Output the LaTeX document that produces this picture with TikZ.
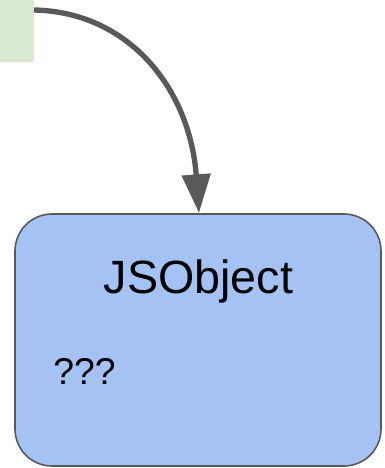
\documentclass[tikz,border=0pt]{standalone}
\usepackage{fontspec}
\setmainfont{Liberation Sans}
\usetikzlibrary{arrows.meta}
\definecolor{leafgreen}{HTML}{D9EAD3}
\definecolor{objblue}{HTML}{A4C2F4}
\definecolor{edgegray}{HTML}{595959}
\tikzset{
  srcbox/.style={fill=leafgreen, draw=none},
  objbox/.style={fill=objblue, draw=edgegray, line width=1.2pt, rounded corners=27.75pt},
  link/.style={draw=edgegray, line width=4pt,
    -{Triangle[length=29pt, width=21pt]}},
  label/.style={inner sep=0pt, anchor=base, text=black}
}
\begin{document}
\begin{tikzpicture}[x=0.75pt, y=-0.75pt]
  \useasboundingbox (0,0) rectangle (385,468);
  % source node, clipped at the top-left edge
  \fill[srcbox] (0,0) rectangle (34,62);
  \coordinate (src) at (34,10);
  % object box
  \path[objbox] (15,214) rectangle (381,466);
  \coordinate (objtop) at (199,213);
  \node[label, font=\fontsize{35pt}{40pt}\selectfont] (title) at (198.5,293) {JSObject};
  \node[label, anchor=base west, font=\fontsize{28pt}{32pt}\selectfont] (body) at (53,384) {???};
  % reference arrow
  \draw[link] (src) .. controls (130,12) and (190,90) .. (objtop);
\end{tikzpicture}
\end{document}
